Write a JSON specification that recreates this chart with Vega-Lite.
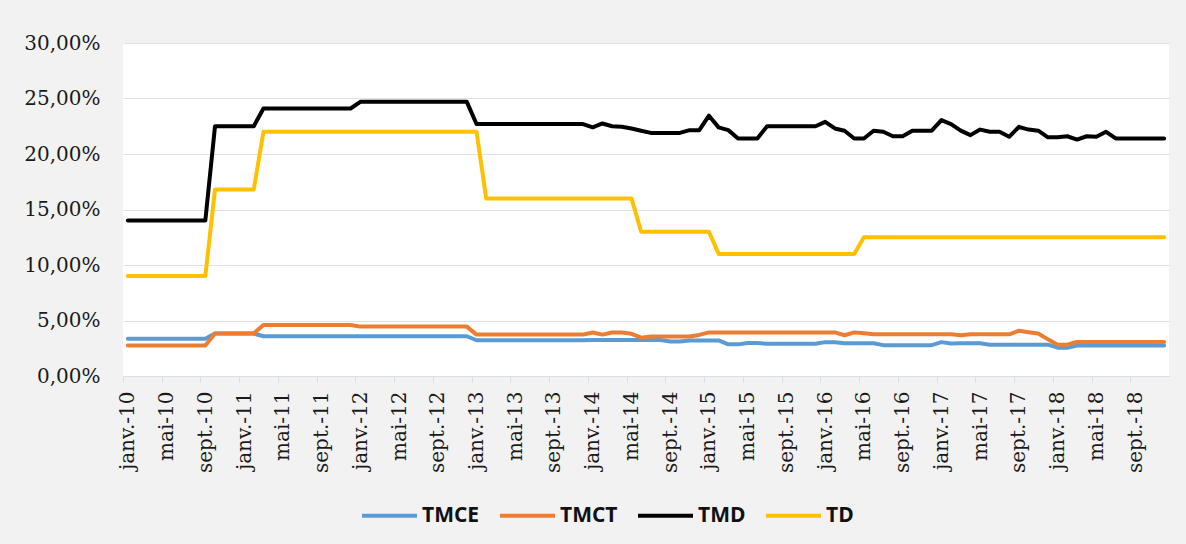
{
  "$schema": "https://vega.github.io/schema/vega-lite/v6.json",
  "width": 1046,
  "height": 333,
  "autosize": {"type": "none"},
  "padding": {"left": 123, "top": 43, "right": 17, "bottom": 168},
  "background": "#f2f2f2",
  "data": {
    "values": [
      {"m": "janv.-10", "TMCE": 3.35, "TMCT": 2.74, "TMD": 14.0, "TD": 9.0},
      {"m": "févr.-10", "TMCE": 3.35, "TMCT": 2.74, "TMD": 14.0, "TD": 9.0},
      {"m": "mars-10", "TMCE": 3.35, "TMCT": 2.74, "TMD": 14.0, "TD": 9.0},
      {"m": "avr.-10", "TMCE": 3.35, "TMCT": 2.74, "TMD": 14.0, "TD": 9.0},
      {"m": "mai-10", "TMCE": 3.35, "TMCT": 2.74, "TMD": 14.0, "TD": 9.0},
      {"m": "juin-10", "TMCE": 3.35, "TMCT": 2.74, "TMD": 14.0, "TD": 9.0},
      {"m": "juil.-10", "TMCE": 3.35, "TMCT": 2.74, "TMD": 14.0, "TD": 9.0},
      {"m": "août-10", "TMCE": 3.35, "TMCT": 2.74, "TMD": 14.0, "TD": 9.0},
      {"m": "sept.-10", "TMCE": 3.35, "TMCT": 2.74, "TMD": 14.0, "TD": 9.0},
      {"m": "oct.-10", "TMCE": 3.83, "TMCT": 3.83, "TMD": 22.5, "TD": 16.8},
      {"m": "nov.-10", "TMCE": 3.83, "TMCT": 3.83, "TMD": 22.5, "TD": 16.8},
      {"m": "déc.-10", "TMCE": 3.83, "TMCT": 3.83, "TMD": 22.5, "TD": 16.8},
      {"m": "janv.-11", "TMCE": 3.83, "TMCT": 3.83, "TMD": 22.5, "TD": 16.8},
      {"m": "févr.-11", "TMCE": 3.83, "TMCT": 3.83, "TMD": 22.5, "TD": 16.8},
      {"m": "mars-11", "TMCE": 3.58, "TMCT": 4.6, "TMD": 24.1, "TD": 22.0},
      {"m": "avr.-11", "TMCE": 3.58, "TMCT": 4.6, "TMD": 24.1, "TD": 22.0},
      {"m": "mai-11", "TMCE": 3.58, "TMCT": 4.6, "TMD": 24.1, "TD": 22.0},
      {"m": "juin-11", "TMCE": 3.58, "TMCT": 4.6, "TMD": 24.1, "TD": 22.0},
      {"m": "juil.-11", "TMCE": 3.58, "TMCT": 4.6, "TMD": 24.1, "TD": 22.0},
      {"m": "août-11", "TMCE": 3.58, "TMCT": 4.6, "TMD": 24.1, "TD": 22.0},
      {"m": "sept.-11", "TMCE": 3.58, "TMCT": 4.6, "TMD": 24.1, "TD": 22.0},
      {"m": "oct.-11", "TMCE": 3.58, "TMCT": 4.6, "TMD": 24.1, "TD": 22.0},
      {"m": "nov.-11", "TMCE": 3.58, "TMCT": 4.6, "TMD": 24.1, "TD": 22.0},
      {"m": "déc.-11", "TMCE": 3.58, "TMCT": 4.6, "TMD": 24.1, "TD": 22.0},
      {"m": "janv.-12", "TMCE": 3.58, "TMCT": 4.45, "TMD": 24.7, "TD": 22.0},
      {"m": "févr.-12", "TMCE": 3.58, "TMCT": 4.45, "TMD": 24.7, "TD": 22.0},
      {"m": "mars-12", "TMCE": 3.58, "TMCT": 4.45, "TMD": 24.7, "TD": 22.0},
      {"m": "avr.-12", "TMCE": 3.58, "TMCT": 4.45, "TMD": 24.7, "TD": 22.0},
      {"m": "mai-12", "TMCE": 3.58, "TMCT": 4.45, "TMD": 24.7, "TD": 22.0},
      {"m": "juin-12", "TMCE": 3.58, "TMCT": 4.45, "TMD": 24.7, "TD": 22.0},
      {"m": "juil.-12", "TMCE": 3.58, "TMCT": 4.45, "TMD": 24.7, "TD": 22.0},
      {"m": "août-12", "TMCE": 3.58, "TMCT": 4.45, "TMD": 24.7, "TD": 22.0},
      {"m": "sept.-12", "TMCE": 3.58, "TMCT": 4.45, "TMD": 24.7, "TD": 22.0},
      {"m": "oct.-12", "TMCE": 3.58, "TMCT": 4.45, "TMD": 24.7, "TD": 22.0},
      {"m": "nov.-12", "TMCE": 3.58, "TMCT": 4.45, "TMD": 24.7, "TD": 22.0},
      {"m": "déc.-12", "TMCE": 3.58, "TMCT": 4.45, "TMD": 24.7, "TD": 22.0},
      {"m": "janv.-13", "TMCE": 3.22, "TMCT": 3.73, "TMD": 22.7, "TD": 22.0},
      {"m": "févr.-13", "TMCE": 3.22, "TMCT": 3.73, "TMD": 22.7, "TD": 16.0},
      {"m": "mars-13", "TMCE": 3.22, "TMCT": 3.73, "TMD": 22.7, "TD": 16.0},
      {"m": "avr.-13", "TMCE": 3.22, "TMCT": 3.73, "TMD": 22.7, "TD": 16.0},
      {"m": "mai-13", "TMCE": 3.22, "TMCT": 3.73, "TMD": 22.7, "TD": 16.0},
      {"m": "juin-13", "TMCE": 3.22, "TMCT": 3.73, "TMD": 22.7, "TD": 16.0},
      {"m": "juil.-13", "TMCE": 3.22, "TMCT": 3.73, "TMD": 22.7, "TD": 16.0},
      {"m": "août-13", "TMCE": 3.22, "TMCT": 3.73, "TMD": 22.7, "TD": 16.0},
      {"m": "sept.-13", "TMCE": 3.22, "TMCT": 3.73, "TMD": 22.7, "TD": 16.0},
      {"m": "oct.-13", "TMCE": 3.22, "TMCT": 3.73, "TMD": 22.7, "TD": 16.0},
      {"m": "nov.-13", "TMCE": 3.22, "TMCT": 3.73, "TMD": 22.7, "TD": 16.0},
      {"m": "déc.-13", "TMCE": 3.22, "TMCT": 3.73, "TMD": 22.7, "TD": 16.0},
      {"m": "janv.-14", "TMCE": 3.25, "TMCT": 3.92, "TMD": 22.4, "TD": 16.0},
      {"m": "févr.-14", "TMCE": 3.25, "TMCT": 3.73, "TMD": 22.75, "TD": 16.0},
      {"m": "mars-14", "TMCE": 3.25, "TMCT": 3.92, "TMD": 22.5, "TD": 16.0},
      {"m": "avr.-14", "TMCE": 3.25, "TMCT": 3.92, "TMD": 22.45, "TD": 16.0},
      {"m": "mai-14", "TMCE": 3.25, "TMCT": 3.8, "TMD": 22.3, "TD": 16.0},
      {"m": "juin-14", "TMCE": 3.25, "TMCT": 3.45, "TMD": 22.1, "TD": 13.0},
      {"m": "juil.-14", "TMCE": 3.25, "TMCT": 3.55, "TMD": 21.9, "TD": 13.0},
      {"m": "août-14", "TMCE": 3.25, "TMCT": 3.55, "TMD": 21.9, "TD": 13.0},
      {"m": "sept.-14", "TMCE": 3.1, "TMCT": 3.55, "TMD": 21.9, "TD": 13.0},
      {"m": "oct.-14", "TMCE": 3.1, "TMCT": 3.55, "TMD": 21.9, "TD": 13.0},
      {"m": "nov.-14", "TMCE": 3.2, "TMCT": 3.55, "TMD": 22.15, "TD": 13.0},
      {"m": "déc.-14", "TMCE": 3.2, "TMCT": 3.7, "TMD": 22.15, "TD": 13.0},
      {"m": "janv.-15", "TMCE": 3.2, "TMCT": 3.93, "TMD": 23.45, "TD": 13.0},
      {"m": "févr.-15", "TMCE": 3.2, "TMCT": 3.93, "TMD": 22.4, "TD": 11.0},
      {"m": "mars-15", "TMCE": 2.85, "TMCT": 3.93, "TMD": 22.15, "TD": 11.0},
      {"m": "avr.-15", "TMCE": 2.85, "TMCT": 3.93, "TMD": 21.4, "TD": 11.0},
      {"m": "mai-15", "TMCE": 2.97, "TMCT": 3.93, "TMD": 21.4, "TD": 11.0},
      {"m": "juin-15", "TMCE": 2.97, "TMCT": 3.93, "TMD": 21.4, "TD": 11.0},
      {"m": "juil.-15", "TMCE": 2.9, "TMCT": 3.93, "TMD": 22.5, "TD": 11.0},
      {"m": "août-15", "TMCE": 2.9, "TMCT": 3.93, "TMD": 22.5, "TD": 11.0},
      {"m": "sept.-15", "TMCE": 2.9, "TMCT": 3.93, "TMD": 22.5, "TD": 11.0},
      {"m": "oct.-15", "TMCE": 2.9, "TMCT": 3.93, "TMD": 22.5, "TD": 11.0},
      {"m": "nov.-15", "TMCE": 2.9, "TMCT": 3.93, "TMD": 22.5, "TD": 11.0},
      {"m": "déc.-15", "TMCE": 2.9, "TMCT": 3.93, "TMD": 22.5, "TD": 11.0},
      {"m": "janv.-16", "TMCE": 3.05, "TMCT": 3.93, "TMD": 22.9, "TD": 11.0},
      {"m": "févr.-16", "TMCE": 3.05, "TMCT": 3.93, "TMD": 22.3, "TD": 11.0},
      {"m": "mars-16", "TMCE": 2.95, "TMCT": 3.67, "TMD": 22.1, "TD": 11.0},
      {"m": "avr.-16", "TMCE": 2.95, "TMCT": 3.93, "TMD": 21.4, "TD": 11.0},
      {"m": "mai-16", "TMCE": 2.95, "TMCT": 3.85, "TMD": 21.4, "TD": 12.5},
      {"m": "juin-16", "TMCE": 2.95, "TMCT": 3.76, "TMD": 22.1, "TD": 12.5},
      {"m": "juil.-16", "TMCE": 2.78, "TMCT": 3.76, "TMD": 22.0, "TD": 12.5},
      {"m": "août-16", "TMCE": 2.78, "TMCT": 3.76, "TMD": 21.6, "TD": 12.5},
      {"m": "sept.-16", "TMCE": 2.78, "TMCT": 3.76, "TMD": 21.6, "TD": 12.5},
      {"m": "oct.-16", "TMCE": 2.78, "TMCT": 3.76, "TMD": 22.1, "TD": 12.5},
      {"m": "nov.-16", "TMCE": 2.78, "TMCT": 3.76, "TMD": 22.1, "TD": 12.5},
      {"m": "déc.-16", "TMCE": 2.78, "TMCT": 3.76, "TMD": 22.1, "TD": 12.5},
      {"m": "janv.-17", "TMCE": 3.05, "TMCT": 3.76, "TMD": 23.05, "TD": 12.5},
      {"m": "févr.-17", "TMCE": 2.92, "TMCT": 3.76, "TMD": 22.7, "TD": 12.5},
      {"m": "mars-17", "TMCE": 2.95, "TMCT": 3.67, "TMD": 22.1, "TD": 12.5},
      {"m": "avr.-17", "TMCE": 2.95, "TMCT": 3.76, "TMD": 21.7, "TD": 12.5},
      {"m": "mai-17", "TMCE": 2.95, "TMCT": 3.76, "TMD": 22.2, "TD": 12.5},
      {"m": "juin-17", "TMCE": 2.82, "TMCT": 3.76, "TMD": 22.0, "TD": 12.5},
      {"m": "juil.-17", "TMCE": 2.82, "TMCT": 3.76, "TMD": 22.0, "TD": 12.5},
      {"m": "août-17", "TMCE": 2.82, "TMCT": 3.76, "TMD": 21.55, "TD": 12.5},
      {"m": "sept.-17", "TMCE": 2.82, "TMCT": 4.08, "TMD": 22.45, "TD": 12.5},
      {"m": "oct.-17", "TMCE": 2.82, "TMCT": 3.95, "TMD": 22.2, "TD": 12.5},
      {"m": "nov.-17", "TMCE": 2.82, "TMCT": 3.83, "TMD": 22.1, "TD": 12.5},
      {"m": "déc.-17", "TMCE": 2.82, "TMCT": 3.3, "TMD": 21.5, "TD": 12.5},
      {"m": "janv.-18", "TMCE": 2.55, "TMCT": 2.82, "TMD": 21.5, "TD": 12.5},
      {"m": "févr.-18", "TMCE": 2.55, "TMCT": 2.82, "TMD": 21.6, "TD": 12.5},
      {"m": "mars-18", "TMCE": 2.74, "TMCT": 3.07, "TMD": 21.3, "TD": 12.5},
      {"m": "avr.-18", "TMCE": 2.74, "TMCT": 3.07, "TMD": 21.6, "TD": 12.5},
      {"m": "mai-18", "TMCE": 2.74, "TMCT": 3.07, "TMD": 21.55, "TD": 12.5},
      {"m": "juin-18", "TMCE": 2.74, "TMCT": 3.07, "TMD": 22.0, "TD": 12.5},
      {"m": "juil.-18", "TMCE": 2.74, "TMCT": 3.07, "TMD": 21.4, "TD": 12.5},
      {"m": "août-18", "TMCE": 2.74, "TMCT": 3.07, "TMD": 21.4, "TD": 12.5},
      {"m": "sept.-18", "TMCE": 2.74, "TMCT": 3.07, "TMD": 21.4, "TD": 12.5},
      {"m": "oct.-18", "TMCE": 2.74, "TMCT": 3.07, "TMD": 21.4, "TD": 12.5},
      {"m": "nov.-18", "TMCE": 2.74, "TMCT": 3.07, "TMD": 21.4, "TD": 12.5},
      {"m": "déc.-18", "TMCE": 2.74, "TMCT": 3.07, "TMD": 21.4, "TD": 12.5}
    ]
  },
  "transform": [
    {"fold": ["TMCE", "TMCT", "TMD", "TD"], "as": ["serie", "valeur"]}
  ],
  "mark": {"type": "line", "strokeWidth": 4, "strokeJoin": "round", "strokeCap": "round"},
  "encoding": {
    "x": {
      "field": "m",
      "type": "ordinal",
      "sort": null,
      "scale": {"type": "point", "padding": 0.5},
      "axis": {
        "title": null,
        "values": ["janv.-10", "mai-10", "sept.-10", "janv.-11", "mai-11", "sept.-11", "janv.-12", "mai-12", "sept.-12", "janv.-13", "mai-13", "sept.-13", "janv.-14", "mai-14", "sept.-14", "janv.-15", "mai-15", "sept.-15", "janv.-16", "mai-16", "sept.-16", "janv.-17", "mai-17", "sept.-17", "janv.-18", "mai-18", "sept.-18"],
        "labelAngle": -90,
        "labelAlign": "right",
        "labelBaseline": "middle",
        "tickOffset": -4.843,
        "labelOffset": 4.843,
        "tickSize": 6,
        "tickColor": "#d9dee6",
        "domainColor": "#d9dee6",
        "domainWidth": 1,
        "labelPadding": 9,
        "grid": false
      }
    },
    "y": {
      "field": "valeur",
      "type": "quantitative",
      "scale": {"domain": [0, 30], "nice": false, "zero": true},
      "axis": {
        "title": null,
        "values": [0, 5, 10, 15, 20, 25, 30],
        "labelExpr": "replace(format(datum.value, '.2f'), '.', ',') + '%'",
        "ticks": false,
        "domain": false,
        "grid": true,
        "gridColor": "#dde2ea",
        "gridWidth": 1,
        "labelPadding": 23
      }
    },
    "color": {
      "field": "serie",
      "type": "nominal",
      "sort": ["TMCE", "TMCT", "TMD", "TD"],
      "scale": {"domain": ["TMCE", "TMCT", "TMD", "TD"], "range": ["#5B9BD5", "#ED7D31", "#000000", "#FFC000"]},
      "legend": {
        "title": null,
        "orient": "none",
        "direction": "horizontal",
        "legendX": 237,
        "legendY": 443,
        "padding": 0,
        "symbolType": "stroke",
        "symbolSize": 3025,
        "symbolStrokeWidth": 4,
        "labelOffset": 3,
        "columnPadding": 12,
        "labelFont": "Open Sans",
        "labelFontWeight": "bold",
        "labelFontSize": 21,
        "labelColor": "#111111"
      }
    }
  },
  "config": {
    "view": {"fill": "white", "stroke": null},
    "axis": {"labelFont": "DejaVu Serif", "labelFontSize": 20, "labelColor": "#1a1a1a"}
  }
}
